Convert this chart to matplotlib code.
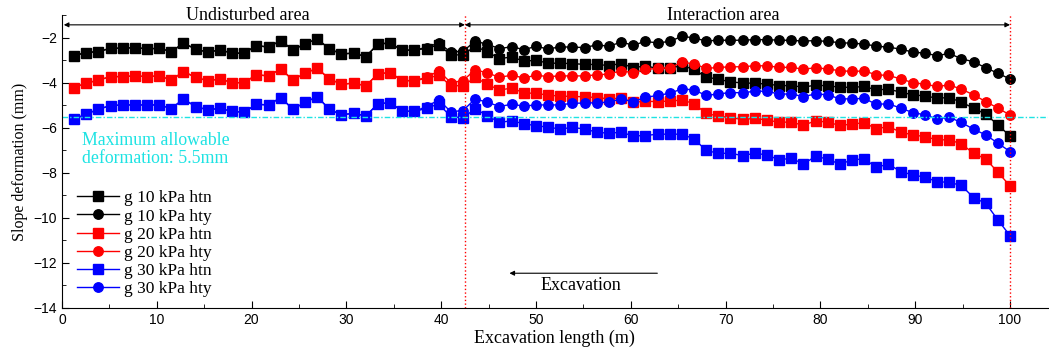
import numpy as np
import matplotlib
matplotlib.use("Agg")
import matplotlib.pyplot as plt

# measuring points along the excavation (78 equally spaced stations)
n_pts = 78
x = np.arange(1, n_pts + 1) * 100 / n_pts

# slope deformation (mm)
g10_hty = [-2.79, -2.65, -2.61, -2.46, -2.46, -2.43, -2.49, -2.46, -2.61, -2.24,
           -2.49, -2.64, -2.53, -2.68, -2.68, -2.34, -2.41, -2.12, -2.53, -2.27,
           -2.04, -2.49, -2.71, -2.68, -2.83, -2.28, -2.22, -2.56, -2.53, -2.43,
           -2.22, -2.64, -2.59, -2.15, -2.28, -2.48, -2.39, -2.52, -2.38, -2.49,
           -2.40, -2.41, -2.43, -2.31, -2.37, -2.19, -2.32, -2.16, -2.22, -2.16,
           -1.93, -2.00, -2.14, -2.10, -2.11, -2.10, -2.08, -2.08, -2.10, -2.11,
           -2.14, -2.12, -2.16, -2.21, -2.24, -2.27, -2.37, -2.41, -2.50, -2.63,
           -2.68, -2.79, -2.69, -2.93, -3.06, -3.33, -3.57, -3.83]
g10_htn = [-2.79, -2.65, -2.61, -2.46, -2.46, -2.43, -2.49, -2.46, -2.61, -2.24,
           -2.49, -2.64, -2.53, -2.68, -2.68, -2.34, -2.41, -2.12, -2.53, -2.27,
           -2.04, -2.49, -2.71, -2.68, -2.83, -2.28, -2.22, -2.56, -2.53, -2.48,
           -2.30, -2.76, -2.75, -2.37, -2.62, -2.92, -2.85, -3.03, -3.00, -3.12,
           -3.13, -3.14, -3.18, -3.18, -3.23, -3.14, -3.32, -3.25, -3.35, -3.35,
           -3.23, -3.40, -3.75, -3.83, -3.96, -4.00, -4.02, -4.05, -4.12, -4.12,
           -4.19, -4.10, -4.13, -4.19, -4.20, -4.16, -4.31, -4.28, -4.41, -4.53,
           -4.58, -4.68, -4.65, -4.86, -5.12, -5.39, -5.87, -6.36]
g20_hty = [-4.21, -4.01, -3.88, -3.72, -3.72, -3.69, -3.72, -3.69, -3.87, -3.50,
           -3.75, -3.91, -3.82, -3.99, -3.99, -3.64, -3.69, -3.38, -3.87, -3.57,
           -3.35, -3.82, -4.06, -4.01, -4.13, -3.60, -3.54, -3.90, -3.90, -3.75,
           -3.47, -3.99, -3.90, -3.41, -3.56, -3.75, -3.66, -3.78, -3.66, -3.72,
           -3.69, -3.69, -3.69, -3.64, -3.61, -3.46, -3.55, -3.40, -3.36, -3.33,
           -3.09, -3.15, -3.36, -3.31, -3.29, -3.28, -3.24, -3.24, -3.31, -3.31,
           -3.39, -3.33, -3.38, -3.46, -3.49, -3.47, -3.64, -3.67, -3.82, -3.99,
           -4.06, -4.16, -4.09, -4.28, -4.53, -4.83, -5.12, -5.43]
g20_htn = [-4.21, -4.01, -3.88, -3.72, -3.72, -3.69, -3.72, -3.69, -3.87, -3.50,
           -3.75, -3.91, -3.82, -3.99, -3.99, -3.64, -3.69, -3.38, -3.87, -3.57,
           -3.35, -3.82, -4.06, -4.01, -4.13, -3.60, -3.54, -3.90, -3.90, -3.80,
           -3.66, -4.13, -4.12, -3.76, -4.06, -4.32, -4.23, -4.44, -4.47, -4.54,
           -4.59, -4.60, -4.62, -4.65, -4.71, -4.68, -4.86, -4.82, -4.83, -4.81,
           -4.76, -4.92, -5.36, -5.47, -5.55, -5.62, -5.58, -5.65, -5.75, -5.74,
           -5.89, -5.68, -5.75, -5.89, -5.83, -5.77, -6.04, -5.94, -6.19, -6.31,
           -6.39, -6.53, -6.53, -6.71, -7.13, -7.38, -7.97, -8.58]
g30_hty = [-5.61, -5.39, -5.17, -5.01, -4.98, -4.98, -4.98, -4.98, -5.14, -4.72,
           -5.05, -5.20, -5.13, -5.27, -5.30, -4.95, -4.98, -4.65, -5.17, -4.87,
           -4.61, -5.17, -5.42, -5.35, -5.47, -4.93, -4.88, -5.25, -5.27, -5.05,
           -4.76, -5.28, -5.23, -4.71, -4.86, -5.05, -4.95, -5.03, -4.98, -4.98,
           -4.98, -4.90, -4.90, -4.88, -4.86, -4.71, -4.84, -4.64, -4.56, -4.46,
           -4.27, -4.31, -4.56, -4.49, -4.43, -4.44, -4.37, -4.37, -4.50, -4.49,
           -4.61, -4.49, -4.53, -4.71, -4.71, -4.69, -4.95, -4.93, -5.12, -5.32,
           -5.42, -5.60, -5.53, -5.76, -6.06, -6.31, -6.68, -7.05]
g30_htn = [-5.61, -5.39, -5.17, -5.01, -4.98, -4.98, -4.98, -4.98, -5.14, -4.72,
           -5.05, -5.20, -5.13, -5.27, -5.30, -4.95, -4.98, -4.65, -5.17, -4.87,
           -4.61, -5.17, -5.42, -5.35, -5.47, -4.93, -4.88, -5.25, -5.27, -5.13,
           -4.93, -5.51, -5.54, -5.16, -5.45, -5.76, -5.68, -5.82, -5.90, -5.97,
           -6.05, -5.98, -6.05, -6.19, -6.24, -6.19, -6.36, -6.34, -6.28, -6.28,
           -6.28, -6.49, -7.00, -7.13, -7.13, -7.23, -7.13, -7.20, -7.42, -7.35,
           -7.60, -7.27, -7.38, -7.62, -7.42, -7.38, -7.75, -7.61, -7.94, -8.09,
           -8.19, -8.39, -8.42, -8.56, -9.10, -9.35, -10.09, -10.79]

series = [
    ("g 10 kPa htn", g10_htn, "black", "s"),
    ("g 10 kPa hty", g10_hty, "black", "o"),
    ("g 20 kPa htn", g20_htn, "red", "s"),
    ("g 20 kPa hty", g20_hty, "red", "o"),
    ("g 30 kPa htn", g30_htn, "blue", "s"),
    ("g 30 kPa hty", g30_hty, "blue", "o"),
]

zone_edge = 42.5
face_end = 100
limit = -5.5

serif = "Liberation Serif"
plt.rcParams["font.family"] = "Liberation Sans"

fig = plt.figure(figsize=(10.49, 3.58), dpi=100)
ax = fig.add_axes([0.059, 0.14, 0.94, 0.817])

for label, vals, col, mk in series:
    ax.plot(x, vals, color=col, marker=mk, markersize=6.8, linewidth=1, label=label)

# limits and reference lines
ax.axhline(limit, color="#1ee3e3", linestyle=(0, (4, 1.5, 1, 1.5)), linewidth=1)
ax.axvline(zone_edge, color="red", linestyle=":", linewidth=1)
ax.axvline(face_end, color="red", linestyle=":", linewidth=1)

ax.text(2.1, -6.2, "Maximum allowable\ndeformation: 5.5mm", color="#1ee3e3",
        fontsize=12.8, family=serif, va="top", ha="left", linespacing=1.05)

# zone arrows
ax.annotate("", xy=(0.2, -1.42), xytext=(zone_edge, -1.42),
            arrowprops=dict(arrowstyle="<|-|>", color="black", lw=0.8,
                            mutation_scale=7, shrinkA=0, shrinkB=0),
            annotation_clip=False)
ax.annotate("", xy=(zone_edge, -1.42), xytext=(face_end, -1.42),
            arrowprops=dict(arrowstyle="<|-|>", color="black", lw=0.8,
                            mutation_scale=7, shrinkA=0, shrinkB=0),
            annotation_clip=False)
ax.text(19.6, -1.0, "Undisturbed area", fontsize=13, family=serif,
        ha="center", va="center", clip_on=False)
ax.text(69.8, -1.0, "Interaction area", fontsize=13, family=serif,
        ha="center", va="center", clip_on=False)

# excavation direction
ax.annotate("", xy=(47.2, -12.46), xytext=(62.8, -12.46),
            arrowprops=dict(arrowstyle="-|>", color="black", lw=0.8,
                            mutation_scale=7, shrinkA=0, shrinkB=0))
ax.text(54.7, -13.0, "Excavation", fontsize=13, family=serif,
        ha="center", va="center")

ax.set_xlim(0, 104)
ax.set_ylim(-14, -1)
ax.set_xticks(np.arange(0, 101, 10))
ax.set_xticks(np.arange(5, 101, 10), minor=True)
ax.set_yticks(np.arange(-14, -1, 2))
ax.set_yticks(np.arange(-13, -0.5, 2), minor=True)
ax.tick_params(which="both", direction="in", labelsize=10)
ax.tick_params(which="major", length=5)
ax.tick_params(which="minor", length=3)
ax.spines["top"].set_visible(False)
ax.spines["right"].set_visible(False)

ax.set_xlabel("Excavation length (m)", family=serif, fontsize=13, labelpad=2)
ax.set_ylabel("Slope deformation (mm)", family=serif, fontsize=11.5, labelpad=4)

ax.legend(loc="lower left", bbox_to_anchor=(0.005, 0.0), frameon=False,
          prop={"family": serif, "size": 12.5}, handlelength=2.4,
          labelspacing=0.12, handletextpad=0.3, borderaxespad=0.2)

fig.savefig("out.png", dpi=100)
